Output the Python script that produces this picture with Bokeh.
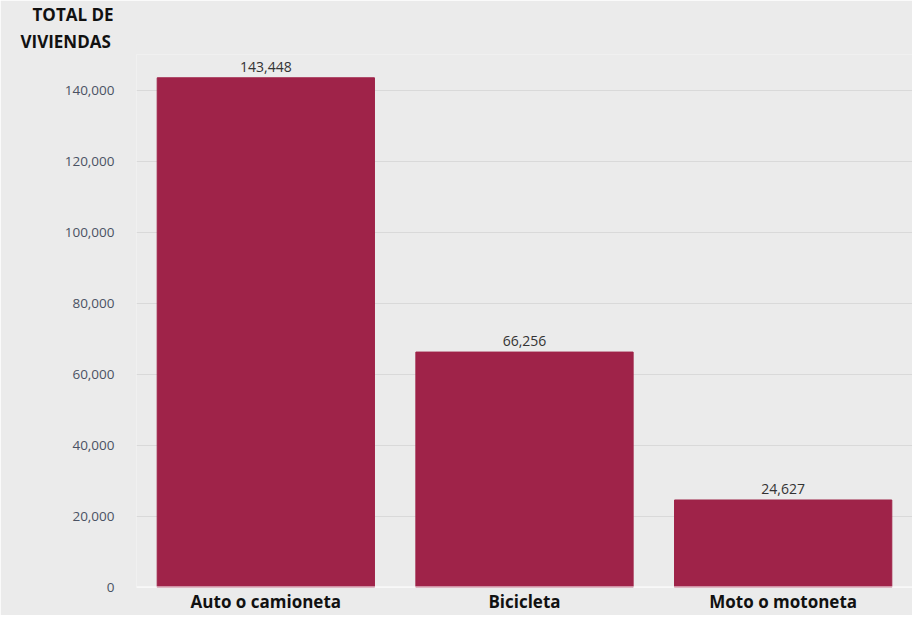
from bokeh.plotting import figure
from bokeh.models import ColumnDataSource, LabelSet, Span, NumeralTickFormatter, FixedTicker, Range1d, Title
from bokeh.core.properties import value
from bokeh.embed import file_html
from bokeh.resources import INLINE

categories = ["Auto o camioneta", "Bicicleta", "Moto o motoneta"]
values = [143448, 66256, 24627]
value_labels = ["143,448", "66,256", "24,627"]
y_ticks = [0, 20000, 40000, 60000, 80000, 100000, 120000, 140000]
title_line1 = "TOTAL DE"
title_line2 = "VIVIENDAS"

BG = "#ebebeb"
BAR = "#9f2349"
FONT = "Open Sans"

src = ColumnDataSource(dict(cat=categories, val=values, lab=value_labels))

p = figure(x_range=categories, y_range=Range1d(0, 150000),
           width=912, height=615, output_backend="svg", toolbar_location=None,
           min_border_left=136, min_border_right=0, min_border_top=52, min_border_bottom=28)
p.background_fill_color = BG
p.border_fill_color = BG
p.outline_line_color = None

def style_title(t, offset, standoff):
    t.align = "left"
    t.offset = offset
    t.standoff = standoff
    t.text_font = FONT
    t.text_font_size = "17px"
    t.text_font_style = "bold"
    t.text_color = "#111111"

p.title.text = title_line1
style_title(p.title, -104, 0)
t2 = Title(text=title_line2)
style_title(t2, -116, 4)
p.add_layout(t2, "above")

p.vbar(x="cat", top="val", width=0.84, source=src, fill_color=BAR, line_color=BAR)

p.add_layout(LabelSet(x="cat", y="val", text="lab", source=src, y_offset=6,
                      text_align="center", text_baseline="bottom",
                      text_font=value(FONT), text_font_size=value("14px"), text_color="#333333"))

p.add_layout(Span(location=0, dimension="width", line_color="#ffffff", line_width=2))

p.yaxis.ticker = FixedTicker(ticks=y_ticks)
p.yaxis.formatter = NumeralTickFormatter(format="0,0")
p.yaxis.axis_line_color = None
p.yaxis.major_tick_line_color = None
p.yaxis.minor_tick_line_color = None
p.yaxis.major_tick_out = 0
p.yaxis.major_tick_in = 0
p.yaxis.major_label_standoff = 22
p.yaxis.major_label_text_font = FONT
p.yaxis.major_label_text_font_size = "13.5px"
p.yaxis.major_label_text_color = "#4a5263"

p.xaxis.axis_line_color = None
p.xaxis.major_tick_line_color = None
p.xaxis.minor_tick_line_color = None
p.xaxis.major_tick_out = 0
p.xaxis.major_tick_in = 0
p.xaxis.major_label_standoff = 2
p.xaxis.major_label_text_font = FONT
p.xaxis.major_label_text_font_size = "17px"
p.xaxis.major_label_text_font_style = "bold"
p.xaxis.major_label_text_color = "#111111"

p.xgrid.grid_line_color = None
p.ygrid.grid_line_color = "#d9d9d9"
p.ygrid.grid_line_width = 1

open("out.html", "w").write(file_html(p, INLINE))
